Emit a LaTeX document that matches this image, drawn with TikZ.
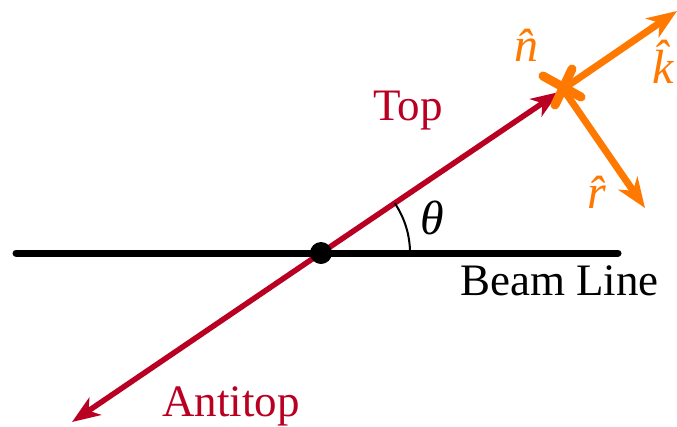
\documentclass[tikz,border=0pt]{standalone}
\usepackage{fontspec}
\setmainfont{Liberation Serif}
\usetikzlibrary{arrows.meta}
\definecolor{topred}{RGB}{185,0,35}
\definecolor{axorange}{RGB}{255,120,0}
\tikzset{
  lbl/.style={anchor=base west, inner sep=0pt, font=\fontsize{45}{54}\selectfont},
  mlbl/.style={anchor=base west, inner sep=0pt, font=\fontsize{48}{56}\selectfont\itshape},
  redarrow/.style={draw=topred, line width=5.5pt, -{Stealth[length=28pt,width=21pt,inset=8pt]}},
  orarrow/.style={draw=axorange, line width=7pt, -{Stealth[length=30pt,width=23pt,inset=9pt]}},
  crossseg/.style={draw=axorange, line width=9pt, line cap=round}
}
\begin{document}
\begin{tikzpicture}[x=1pt,y=-1pt]
\useasboundingbox (0,0) rectangle (677,426);
% beam line
\coordinate (bl) at (16,253);
\coordinate (br) at (618,253);
\coordinate (o) at (321,253);
\draw[line width=7pt, line cap=round] (bl) -- (br);
% top / antitop
\coordinate (tt) at (559,92);
\coordinate (at) at (72,422);
\draw[redarrow] (o) -- (tt);
\draw[redarrow] (o) -- (at);
\fill (o) circle (11pt);
% angle
\coordinate (a0) at (410,253);
\draw[line width=2pt] (a0) arc[start angle=0, end angle=34, radius=89pt];
% orange frame
\coordinate (c) at (563,89);
\coordinate (kk) at (677,11);
\coordinate (rr) at (645,208);
\draw[orarrow] (c) -- (kk);
\draw[orarrow] (c) -- (rr);
\coordinate (x1) at (543,76);
\coordinate (x2) at (581,97);
\coordinate (x3) at (572,69);
\coordinate (x4) at (555,105);
\draw[crossseg] (x1) -- (x2);
\draw[crossseg] (x3) -- (x4);
% labels
\node[lbl] (beam) at (460,295) {Beam Line};
\node[lbl, text=topred] (top) at (373,120) {Top};
\node[lbl, text=topred] (antitop) at (162,416) {Antitop};
\node[mlbl] (theta) at (420,234) {θ};
\node[mlbl, text=axorange] (n) at (514,61) {\^n};
\node[mlbl, text=axorange] (k) at (652,83) {\^k};
\node[mlbl, text=axorange] (r) at (587,208) {\^r};
\end{tikzpicture}
\end{document}
